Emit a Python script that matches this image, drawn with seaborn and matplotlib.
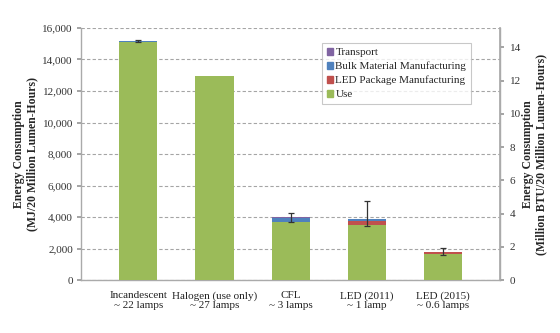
import numpy as np
import pandas as pd
import matplotlib
matplotlib.use("Agg")
import matplotlib.pyplot as plt
from matplotlib.patches import Patch
import seaborn as sns

categories = ["Incandescent\n~ 22 lamps", "Halogen (use only)\n~ 27 lamps", "CFL\n~ 3 lamps",
              "LED (2011)\n~ 1 lamp", "LED (2015)\n~ 0.6 lamps"]
use = [15100, 12950, 3700, 3520, 1650]
led_package = [0, 0, 0, 230, 120]
bulk_material = [50, 0, 250, 100, 20]
transport = [20, 0, 30, 30, 20]
err_low = [60, 0, 280, 480, 240]
err_high = [60, 0, 250, 1120, 250]

MJ_PER_MMBTU = 1055.06

sns.set_theme(style="white")
plt.rcParams["font.family"] = ["Liberation Serif", "DejaVu Serif"]

components = ["Use", "LED Package Manufacturing", "Bulk Material Manufacturing", "Transport"]
colors = {"Use": "#9BBB59", "LED Package Manufacturing": "#C0504D",
          "Bulk Material Manufacturing": "#4F81BD", "Transport": "#8064A2"}

df = pd.DataFrame({"cat": categories, "Use": use, "LED Package Manufacturing": led_package,
                   "Bulk Material Manufacturing": bulk_material, "Transport": transport})
# cumulative heights for stacking
cum = df[components].cumsum(axis=1)

fig = plt.figure(figsize=(5.6, 3.33), dpi=100)
ax = fig.add_axes([0.145, 0.159, 0.748, 0.757])

# draw the tallest cumulative layer first, then overlay the lower ones
for comp in reversed(components):
    sns.barplot(data=cum.assign(cat=df["cat"]), x="cat", y=comp, ax=ax,
                color=colors[comp], saturation=1, width=0.5, edgecolor="none",
                errorbar=None, zorder=3)

x = np.arange(len(categories))
totals = cum["Transport"].to_numpy()
mask = (np.array(err_low) + np.array(err_high)) > 0
ax.errorbar(x[mask], totals[mask], yerr=[np.array(err_low)[mask], np.array(err_high)[mask]],
            fmt="none", ecolor="#333333", elinewidth=0.9, capsize=2.5, capthick=0.9, zorder=4)

ax.set_xlim(-0.75, 4.75)
ax.set_ylim(0, 16000)
ax.set_yticks(np.arange(0, 16001, 2000))
ax.set_yticklabels([f"{v:,}" for v in range(0, 16001, 2000)], fontsize=8, color="#333333")
ax.set_xticks(x)
ax.set_xticklabels(categories, fontsize=8, color="#222222", linespacing=1.05)
ax.set_xlabel("")
ax.tick_params(axis="x", length=0, pad=8)
ax.tick_params(axis="y", length=3, color="#999999", pad=3, left=True)
ax.yaxis.grid(True, linestyle=(0, (3, 2)), color="#a5a5a5", linewidth=0.8, zorder=0)
ax.set_axisbelow(True)
ax.spines["top"].set_visible(False)
for s in ["left", "bottom", "right"]:
    ax.spines[s].set_color("#aaaaaa")
    ax.spines[s].set_linewidth(1.0)
ax.set_ylabel("Energy Consumption\n(MJ/20 Million Lumen-Hours)", fontsize=8.5,
              fontweight="bold", labelpad=3, linespacing=1.1)

ax2 = ax.twinx()
ax2.set_ylim(0, 16000 / MJ_PER_MMBTU)
ax2.set_yticks(np.arange(0, 15, 2))
ax2.set_yticklabels([str(v) for v in range(0, 15, 2)], fontsize=8, color="#333333")
ax2.tick_params(axis="y", length=3, color="#999999", pad=4, right=True)
for s in ["top", "left", "bottom"]:
    ax2.spines[s].set_visible(False)
ax2.spines["right"].set_color("#aaaaaa")
ax2.set_ylabel("Energy Consumption\n(Million BTU/20 Million Lumen-Hours)", fontsize=8.5,
               fontweight="bold", labelpad=1, linespacing=1.1)

order = ["Transport", "Bulk Material Manufacturing", "LED Package Manufacturing", "Use"]
leg = ax.legend([Patch(color=colors[k]) for k in order], order, loc="upper left",
                bbox_to_anchor=(0.575, 0.94), fontsize=8, frameon=True, fancybox=False,
                handlelength=0.6, handleheight=0.6, handletextpad=0.2, borderpad=0.4,
                labelspacing=0.4, borderaxespad=0)
leg.get_frame().set_edgecolor("#bbbbbb")
leg.get_frame().set_linewidth(0.8)

fig.savefig("out.png", dpi=100, facecolor="white")
